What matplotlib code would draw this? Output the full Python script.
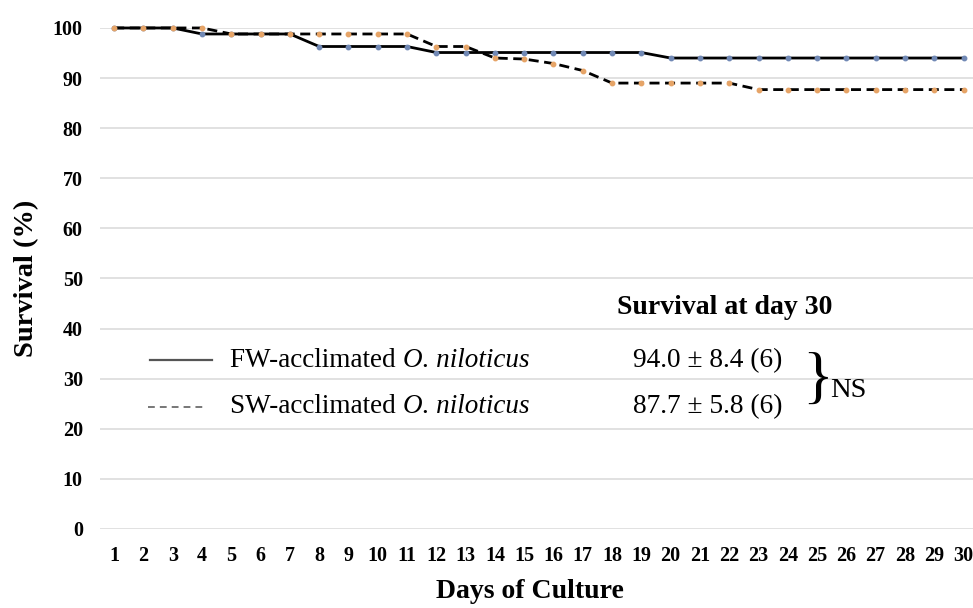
import matplotlib
matplotlib.use("Agg")
import matplotlib.pyplot as plt

plt.rcParams['font.family'] = 'Liberation Serif'

days = list(range(1, 31))
fw_survival = [100, 100, 100, 98.8, 98.8, 98.8, 98.8, 96.3, 96.3, 96.3,
               96.3, 95.1, 95.1, 95.1, 95.1, 95.1, 95.1, 95.1, 95.1, 94.0,
               94.0, 94.0, 94.0, 94.0, 94.0, 94.0, 94.0, 94.0, 94.0, 94.0]
sw_survival = [100, 100, 100, 100, 98.8, 98.8, 98.8, 98.8, 98.8, 98.8,
               98.8, 96.3, 96.3, 94.0, 93.8, 92.9, 91.5, 89.0, 89.0, 89.0,
               89.0, 89.0, 87.7, 87.7, 87.7, 87.7, 87.7, 87.7, 87.7, 87.7]
yticks = list(range(0, 101, 10))

day30_stats = ["94.0 \u00b1 8.4 (6)", "87.7 \u00b1 5.8 (6)"]
groups = ["FW-acclimated", "SW-acclimated"]
species = "O. niloticus"

fig = plt.figure(figsize=(9.73, 6.08), dpi=100)
ax = fig.add_axes([0.1023, 0.130, 0.903, 0.824])

ax.plot(days, fw_survival, color='black', lw=2.0, marker='o', markersize=3.2,
        markerfacecolor='#7189b5', markeredgecolor='#7189b5', clip_on=False, zorder=3)
ax.plot(days, sw_survival, color='black', lw=2.0, dashes=(3.6, 2.0), marker='o',
        markersize=3.2, markerfacecolor='#e6a467', markeredgecolor='#e6a467',
        clip_on=False, zorder=3)

ax.set_xlim(0.5, 30.5)
ax.set_ylim(0, 100)
ax.set_xticks(days)
ax.set_yticks(yticks)
ax.tick_params(length=0, labelsize=14.5, pad=12)
for lab in ax.get_xticklabels() + ax.get_yticklabels():
    lab.set_fontweight('bold')
ax.yaxis.grid(True, color='#d9d9d9', lw=1.1)
for s in ax.spines.values():
    s.set_visible(False)

ax.set_xlabel("Days of Culture", fontsize=20, fontweight='bold')
ax.xaxis.set_label_coords(0.49, -0.100)
ax.set_ylabel("Survival (%)", fontsize=20.5, fontweight='bold', labelpad=10)

# hand-made legend
ax.plot([2.22, 4.34], [33.7, 33.7], color='#555555', lw=1.6)
ax.plot([2.16, 4.17], [24.4, 24.4], color='#777777', lw=1.4, dashes=(3.5, 2.6))
for name, y in zip(groups, [33.7, 24.4]):
    t = ax.text(4.96, y, name + " ", fontsize=19.5, va='center')
    ax.annotate(species, xy=(1, 0), xycoords=t, fontsize=19.5, style='italic',
                va='bottom')

# survival at day 30
ax.text(21.85, 44.3, "Survival at day 30", fontsize=20, fontweight='bold',
        ha='center', va='center')
ax.text(21.28, 33.7, day30_stats[0], fontsize=19.7, ha='center', va='center')
ax.text(21.28, 24.4, day30_stats[1], fontsize=19.7, ha='center', va='center')
ax.text(25.0, 29.3, "}", fontsize=46, ha='center', va='center')
ax.text(25.45, 27.7, "NS", fontsize=20.5, ha='left', va='center')

fig.savefig("out.png", dpi=100, facecolor='white')
